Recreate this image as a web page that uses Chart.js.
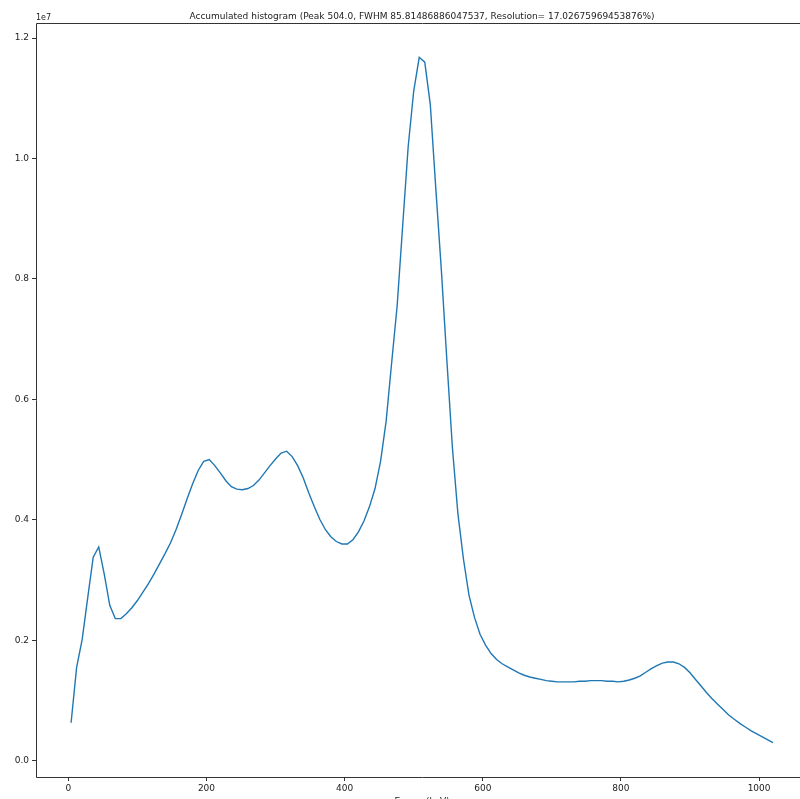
<!DOCTYPE html>
<html>
<head>
<meta charset="utf-8">
<script src="https://cdn.jsdelivr.net/npm/chart.js@4"></script>
<style>
  html, body { margin: 0; padding: 0; background: #fff; overflow: hidden; }
  #wrap { width: 800px; height: 799px; overflow: hidden; position: relative; }
  #chart1 { position: absolute; left: 0; top: 0; }
</style>
</head>
<body>
<div id="wrap"><canvas id="chart1" width="830" height="820"></canvas></div>
<script>
// bin centres (keV)
var energies = [
	4, 12, 20, 28, 36, 44, 52, 60, 68, 76,
	84, 92, 100, 108, 116, 124, 132, 140, 148, 156,
	164, 172, 180, 188, 196, 204, 212, 220, 228, 236,
	244, 252, 260, 268, 276, 284, 292, 300, 308, 316,
	324, 332, 340, 348, 356, 364, 372, 380, 388, 396,
	404, 412, 420, 428, 436, 444, 452, 460, 468, 476,
	484, 492, 500, 508, 516, 524, 532, 540, 548, 556,
	564, 572, 580, 588, 596, 604, 612, 620, 628, 636,
	644, 652, 660, 668, 676, 684, 692, 700, 708, 716,
	724, 732, 740, 748, 756, 764, 772, 780, 788, 796,
	804, 812, 820, 828, 836, 844, 852, 860, 868, 876,
	884, 892, 900, 908, 916, 924, 932, 940, 948, 956,
	964, 972, 980, 988, 996, 1004, 1012, 1020
];

// counts, in units of 1e7
var counts = [
	0.063, 0.155, 0.201, 0.270, 0.338, 0.355, 0.310, 0.258, 0.236, 0.236,
	0.244, 0.254, 0.266, 0.280, 0.294, 0.310, 0.327, 0.344, 0.362, 0.384,
	0.409, 0.435, 0.460, 0.482, 0.497, 0.500, 0.490, 0.478, 0.465, 0.455,
	0.451, 0.450, 0.452, 0.457, 0.466, 0.478, 0.490, 0.501, 0.511, 0.514,
	0.505, 0.490, 0.470, 0.445, 0.422, 0.401, 0.384, 0.372, 0.364, 0.360,
	0.360, 0.367, 0.380, 0.398, 0.422, 0.452, 0.497, 0.563, 0.660, 0.755,
	0.888, 1.020, 1.112, 1.168, 1.160, 1.090, 0.950, 0.815, 0.665, 0.520,
	0.410, 0.335, 0.275, 0.238, 0.210, 0.192, 0.178, 0.168, 0.161, 0.156,
	0.151, 0.146, 0.142, 0.139, 0.137, 0.135, 0.133, 0.132, 0.131, 0.131,
	0.131, 0.131, 0.132, 0.132, 0.133, 0.133, 0.133, 0.132, 0.132, 0.131,
	0.132, 0.134, 0.137, 0.141, 0.147, 0.153, 0.158, 0.162, 0.164, 0.164,
	0.161, 0.155, 0.146, 0.135, 0.124, 0.113, 0.103, 0.094, 0.085, 0.076,
	0.069, 0.062, 0.056, 0.050, 0.045, 0.040, 0.035, 0.030
];

var xTicks = [0, 200, 400, 600, 800, 1000];
var yTicks = [0.0, 0.2, 0.4, 0.6, 0.8, 1.0, 1.2];

var titleText = 'Accumulated histogram (Peak 504.0, FWHM 85.81486886047537, Resolution= 17.02675969453876%)';
var xLabel = 'Energy(keV)';
var yOffsetText = '1e7';

var fontFamily = '"DejaVu Sans", sans-serif';
var axisColor = '#333';

// spines, title and offset text like matplotlib
var framePlugin = {
	id: 'frame',
	afterDraw: function(chart) {
		var ctx = chart.ctx, a = chart.chartArea;
		var l = Math.round(a.left) + 0.5, t = Math.round(a.top) + 0.5;
		var r = Math.round(a.right) + 0.5, b = Math.round(a.bottom) + 0.5;
		ctx.save();
		ctx.strokeStyle = axisColor;
		ctx.lineWidth = 1;
		ctx.beginPath();
		ctx.moveTo(r, t);
		ctx.lineTo(l, t);
		ctx.lineTo(l, b);
		ctx.lineTo(r, b);
		ctx.lineTo(r, t);
		ctx.stroke();
		ctx.fillStyle = '#222';
		ctx.font = '9px ' + fontFamily;
		ctx.textAlign = 'center';
		ctx.textBaseline = 'alphabetic';
		ctx.fillText(titleText, (a.left + a.right) / 2, 19);
		ctx.font = '8px ' + fontFamily;
		ctx.textAlign = 'left';
		ctx.fillText(yOffsetText, a.left, 20);
		ctx.restore();
	}
};

var ctx = document.getElementById('chart1').getContext('2d');
var chart1 = new Chart(ctx, {
	type: 'line',
	data: {
		datasets: [{
			data: energies.map(function(e, i) { return { x: e, y: counts[i] }; }),
			borderColor: '#1f77b4',
			backgroundColor: 'transparent',
			borderWidth: 1.4,
			pointRadius: 0,
			tension: 0,
			fill: false
		}]
	},
	plugins: [framePlugin],
	options: {
		responsive: false,
		animation: false,
		events: [],
		layout: { padding: { left: 0, right: 22, top: 23, bottom: 13 } },
		plugins: {
			legend: { display: false },
			tooltip: { enabled: false },
			title: { display: false }
		},
		scales: {
			x: {
				type: 'linear',
				min: -46.8,
				max: 1070.8,
				afterBuildTicks: function(s) { s.ticks = xTicks.map(function(v) { return { value: v }; }); },
				afterFit: function(s) { s.height = 30; },
				grid: { display: true, drawOnChartArea: false, drawTicks: true, tickLength: 4, color: axisColor },
				border: { display: false },
				ticks: {
					font: { family: fontFamily, size: 9 },
					color: '#222',
					padding: 2,
					maxRotation: 0,
					callback: function(v) { return String(v); }
				},
				title: {
					display: true,
					text: xLabel,
					font: { family: fontFamily, size: 9 },
					color: '#222',
					padding: { top: 0, bottom: 0 }
				}
			},
			y: {
				type: 'linear',
				min: -0.027,
				max: 1.225,
				afterBuildTicks: function(s) { s.ticks = yTicks.map(function(v) { return { value: v }; }); },
				afterFit: function(s) { s.width = 36; },
				grid: { display: true, drawOnChartArea: false, drawTicks: true, tickLength: 4, color: axisColor },
				border: { display: false },
				ticks: {
					font: { family: fontFamily, size: 9 },
					color: '#222',
					padding: 3,
					callback: function(v) { return v.toFixed(1); }
				}
			}
		}
	}
});
</script>
</body>
</html>
